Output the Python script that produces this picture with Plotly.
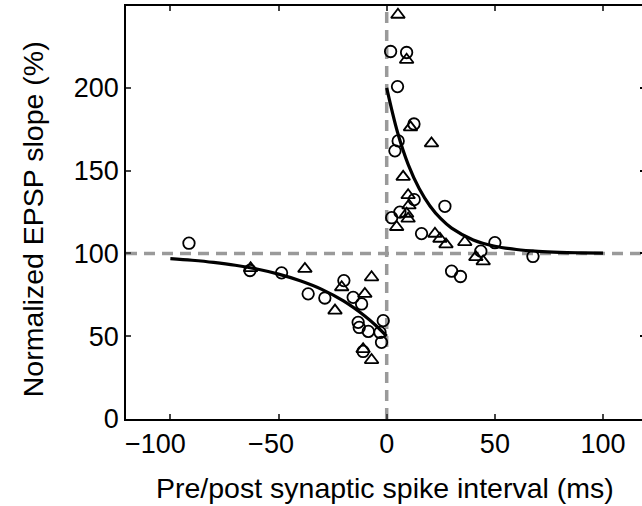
import plotly.graph_objects as go

# Scatter data: (interval ms, normalized EPSP slope %)
circle_t = [1.8, 9.2, 5.0, 12.6, 5.3, 3.8, 12.7, 6.1, 2.3, 16.1, 26.9, 50.0, 43.5, 30.0, 34.1, 67.6,
            -91.4, -63.2, -48.6, -36.3, -28.6, -19.8, -15.5, -11.6, -13.2, -12.7, -8.5, -1.6, -3.1, -2.4, -10.9]
circle_v = [222, 221.4, 200.8, 178.2, 168, 162, 132.5, 125, 121.6, 112, 128.5, 106.5, 101.4, 89.3, 86.1, 98.2,
            106.2, 89.7, 88.3, 75.6, 73.1, 83.6, 73.5, 69.5, 58.4, 55.3, 52.9, 59.4, 52.3, 46.3, 40.8]

tri_t = [5.2, 9.2, 11.0, 20.7, 7.6, 9.9, 10.3, 9.2, 9.9, 4.6, 22.3, 24.6, 27.4, 36.1, 41.2, 44.6,
         -62.9, -37.8, -20.8, -23.9, -10.1, -7.0, -10.9, -7.0]
tri_v = [244.2, 217, 176.2, 166.5, 146.3, 135.2, 129, 124, 121, 116, 111.9, 108.9, 105.5, 106.9, 97.8, 95.2,
         91.1, 90.7, 79.6, 65.5, 75.6, 85.6, 42.2, 35.6]

# Fitted curves
fit_pos_t = [0, 5, 10, 15, 20, 25, 30, 40, 50, 60, 70, 80, 90, 100]
fit_pos_v = [200, 173.2, 153.5, 139.2, 128.7, 121, 115.3, 108.2, 104.4, 102.4, 101.3, 100.7, 100.4, 100.2]
fit_neg_t = [-100, -90, -80, -70, -60, -50, -40, -30, -20, -10, -5, 0]
fit_neg_v = [96.9, 95.9, 94.6, 92.9, 90.6, 87.5, 83.5, 78.3, 71.3, 62.1, 56.5, 50]

x_ticks = [-100, -50, 0, 50, 100]
NB = "\u00a0"
x_ticktext = ["\u2212100" + NB * 4, "\u221250" + NB * 2, "0", "50", "100"]
y_ticks = [0, 50, 100, 150, 200]

x_title = "Pre/post synaptic spike interval (ms)"
y_title = "Normalized EPSP slope (%)"

FONT = "Liberation Sans, Arial, Helvetica, sans-serif"
FS_TICK = 27
FS_TITLE = 28.5

fig = go.Figure()
for ft, fv in ((fit_neg_t, fit_neg_v), (fit_pos_t, fit_pos_v)):
    fig.add_trace(go.Scatter(x=ft, y=fv, mode="lines", line=dict(color="black", width=3.2, shape="spline"),
                             showlegend=False, hoverinfo="skip"))
fig.add_trace(go.Scatter(x=circle_t, y=circle_v, mode="markers",
                         marker=dict(symbol="circle-open", size=11.5, color="black", line=dict(width=1.8)),
                         showlegend=False))
fig.add_trace(go.Scatter(x=tri_t, y=tri_v, mode="markers",
                         marker=dict(symbol="triangle-up-open", size=12, color="black", line=dict(width=1.8)),
                         showlegend=False))
# invisible trace for right-hand tick marks
fig.add_trace(go.Scatter(x=[0], y=[0], yaxis="y2", mode="markers", marker=dict(opacity=0),
                         showlegend=False, hoverinfo="skip"))

dash_style = dict(color="#9a9a9a", width=3.5, dash="11px,7px")
fig.add_shape(type="line", xref="paper", yref="y", x0=0, x1=1, y0=100, y1=100, line=dash_style, layer="below")
fig.add_shape(type="line", xref="x", yref="paper", x0=0, x1=0, y0=0, y1=1, line=dash_style, layer="below")

fig.add_annotation(text=x_title, xref="paper", yref="paper", x=0.502, y=-0.167,
                   xanchor="center", yanchor="middle", showarrow=False,
                   font=dict(family=FONT, size=FS_TITLE, color="black"))
fig.add_annotation(text=y_title, xref="paper", yref="paper", x=-0.180, y=0.484, textangle=-90,
                   xanchor="center", yanchor="middle", showarrow=False,
                   font=dict(family=FONT, size=FS_TITLE, color="black"))

fig.update_layout(
    width=642, height=506,
    margin=dict(l=126, r=0, t=6, b=87),
    plot_bgcolor="white", paper_bgcolor="white",
    font=dict(family=FONT, size=FS_TICK, color="black"),
    xaxis=dict(range=[-120.5, 118], tickvals=x_ticks, ticktext=x_ticktext, ticks="inside", ticklen=5,
               tickwidth=1.5, showline=True, linewidth=1.5, linecolor="black", mirror="ticks",
               showgrid=False, zeroline=False, tickfont=dict(family=FONT, size=FS_TICK)),
    yaxis=dict(range=[0, 249.5], tickvals=y_ticks, ticks="inside", ticklen=5, tickwidth=1.5,
               showline=True, linewidth=1.5, linecolor="black", mirror=False, showgrid=False,
               zeroline=False, tickfont=dict(family=FONT, size=FS_TICK)),
    yaxis2=dict(range=[0, 249.5], tickvals=y_ticks, ticks="inside", ticklen=2, tickwidth=1.5,
                tickcolor="black", overlaying="y", side="right", showline=False, showgrid=False,
                zeroline=False, showticklabels=False),
)
fig.write_html("out.html")
